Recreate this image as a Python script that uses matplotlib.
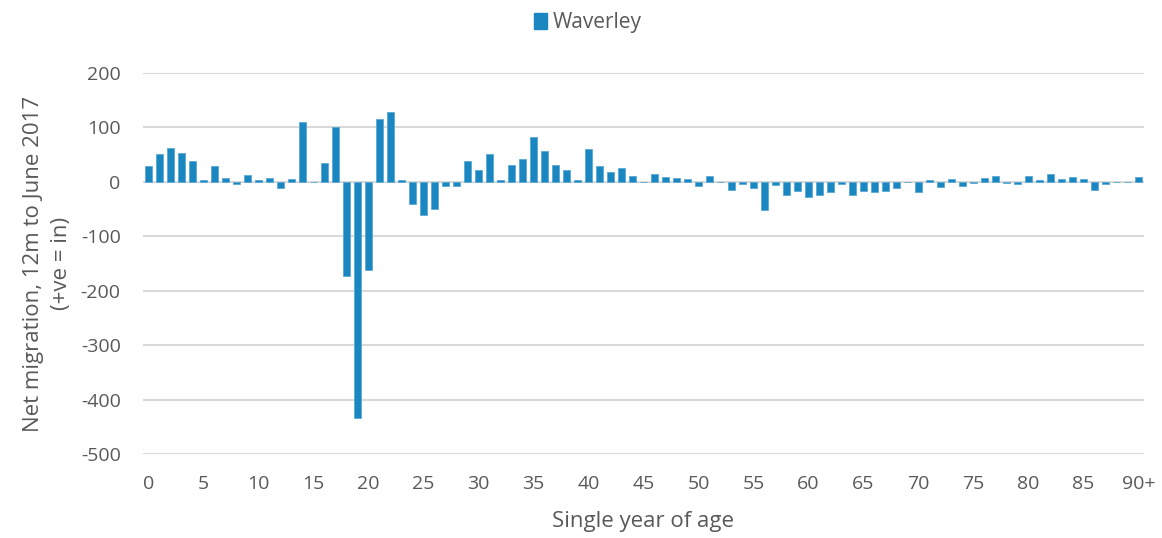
import numpy as np
import matplotlib.pyplot as plt
from matplotlib.patches import Patch

# net migration by single year of age
ages = list(range(91))
net_migration = [
    30, 52, 63, 53, 38, 4, 29, 7, -3, 12,
    3, 7, -12, 5, 110, -1, 34, 100, -172, -433,
    -161, 115, 129, 4, -40, -60, -49, -7, -8, 38,
    21, 52, 3, 31, 42, 82, 57, 31, 22, 4,
    61, 29, 18, 25, 10, 0, 15, 9, 7, 6,
    -8, 10, 0, -15, -3, -11, -51, -5, -25, -16,
    -27, -25, -18, -3, -24, -16, -18, -16, -11, 0,
    -19, 4, -10, 6, -8, -2, 7, 10, -2, -3,
    10, 4, 14, 5, 9, 5, -14, -4, 0, 0,
    9,
]
tick_pos = list(range(0, 91, 5))
tick_labels = [str(a) for a in range(0, 90, 5)] + ["90+"]
series_name = "Waverley"

plt.rcParams['font.family'] = ['Open Sans', 'DejaVu Sans']
plt.rcParams['axes.unicode_minus'] = False
txt = '#595959'
bar_col = '#1a87c0'

fig = plt.figure(figsize=(11.62, 5.38), dpi=100)
ax = fig.add_axes([0.123, 0.156, 0.8615, 0.7083])

ax.bar(ages, net_migration, width=0.66, color=bar_col,
       edgecolor='#5aa9d6', linewidth=0.6, zorder=3)

ax.set_xlim(-0.5, 90.5)
ax.set_ylim(-500, 200)
ax.set_yticks(np.arange(-500, 201, 100))
ax.yaxis.grid(True, color='#d9d9d9', linewidth=1.5, zorder=0)
ax.set_xticks(tick_pos)
ax.set_xticklabels(tick_labels)
for s in ax.spines.values():
    s.set_visible(False)
ax.tick_params(axis='both', length=0, labelsize=14, labelcolor=txt)
ax.tick_params(axis='x', pad=15)
ax.tick_params(axis='y', pad=16)

ax.set_xlabel("Single year of age", fontsize=16, color=txt, labelpad=13)
ax.set_ylabel("Net migration, 12m to June 2017\n(+ve = in)", fontsize=16,
              color=txt, labelpad=6, linespacing=1.45)

fig.legend(handles=[Patch(facecolor=bar_col, edgecolor=bar_col, label=series_name)],
           loc='upper center', bbox_to_anchor=(0.506, 1.012), frameon=False,
           fontsize=15, labelcolor=txt, handlelength=0.6, handleheight=0.8,
           handletextpad=0.3)

fig.savefig('out.png', dpi=100)
